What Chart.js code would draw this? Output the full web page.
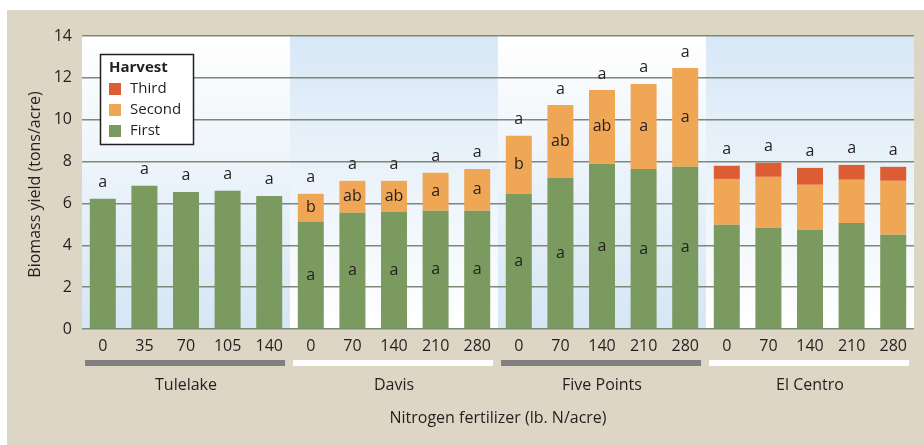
<!DOCTYPE html>
<html>
<head>
<meta charset="utf-8">
<script src="https://cdn.jsdelivr.net/npm/chart.js@4.4.1/dist/chart.umd.min.js"></script>
<style>
    html, body { margin: 0; padding: 0; background: #fff; }
    #wrap { width: 924px; height: 445px; }
</style>
</head>
<body>
<div id="wrap"><canvas id="yieldChart" width="924" height="445"></canvas></div>
<script>
// ─── DATA ──────────────────────────────────────────────
const rates = ['0', '35', '70', '105', '140',
               '0', '70', '140', '210', '280',
               '0', '70', '140', '210', '280',
               '0', '70', '140', '210', '280'];
const sites = ['Tulelake', 'Davis', 'Five Points', 'El Centro'];

const firstHarvest  = [6.22, 6.84, 6.55, 6.60, 6.36,  5.12, 5.55, 5.60, 5.65, 5.65,
                       6.46, 7.22, 7.89, 7.65, 7.75,  4.98, 4.84, 4.74, 5.07, 4.50];
const secondHarvest = [null, null, null, null, null,  1.34, 1.53, 1.48, 1.81, 2.00,
                       2.77, 3.48, 3.53, 4.06, 4.72,  2.19, 2.43, 2.15, 2.06, 2.58];
const thirdHarvest  = [null, null, null, null, null,  null, null, null, null, null,
                       null, null, null, null, null,  0.63, 0.67, 0.81, 0.71, 0.67];

// significance letters: above the stack, inside second cut, inside first cut
const lettersTop    = ['a','a','a','a','a', 'a','a','a','a','a', 'a','a','a','a','a', 'a','a','a','a','a'];
const lettersSecond = ['','','','','', 'b','ab','ab','a','a', 'b','ab','ab','a','a', '','','','',''];
const lettersFirst  = ['','','','','', 'a','a','a','a','a', 'a','a','a','a','a', '','','','',''];

const yTickStep = 2;
const yMax = 14;

// ─── STYLE ─────────────────────────────────────────────
const FONT = '"Open Sans", "Noto Sans", sans-serif';
const INK = '#231f20';
const colors = { first: '#7a9a60', second: '#f0a755', third: '#dc5c33' };

// ─── PLUGINS ───────────────────────────────────────────
const backdrop = {
    id: 'backdrop',
    beforeDraw(chart) {
        const { ctx, chartArea: a } = chart;
        ctx.save();
        ctx.fillStyle = '#ffffff';
        ctx.fillRect(0, 0, chart.width, chart.height);
        ctx.fillStyle = '#ddd6c5';
        ctx.fillRect(7, 10, chart.width - 7, chart.height - 10);

        // alternating gradient panels, one per site
        const panelW = a.width / sites.length;
        sites.forEach((s, i) => {
            const x0 = a.left + i * panelW;
            const g = ctx.createLinearGradient(0, a.top, 0, a.bottom);
            const blueTop = i % 2 === 1;
            g.addColorStop(0, blueTop ? '#d8e8f6' : '#ffffff');
            g.addColorStop(1, blueTop ? '#ffffff' : '#d6e6f5');
            ctx.fillStyle = g;
            ctx.fillRect(x0, a.top, panelW, a.bottom - a.top);
        });
        ctx.restore();
    },
    afterDraw(chart) {
        const { ctx, chartArea: a } = chart;
        const panelW = a.width / sites.length;
        ctx.save();
        ctx.fillStyle = INK;
        ctx.textAlign = 'center';
        ctx.textBaseline = 'middle';
        ctx.font = '16px ' + FONT;

        sites.forEach((s, i) => {
            const x0 = a.left + i * panelW;
            // group underline bar
            ctx.fillStyle = i % 2 === 0 ? '#808080' : '#ffffff';
            ctx.fillRect(x0 + 3, 360, panelW - 8, 6);
            ctx.fillStyle = INK;
            ctx.fillText(s, x0 + panelW / 2, 385);
        });

        ctx.fillText('Nitrogen fertilizer (lb. N/acre)', (a.left + a.right) / 2, 418);

        // y axis title
        ctx.translate(35, (a.top + a.bottom) / 2 + 2);
        ctx.rotate(-Math.PI / 2);
        ctx.fillText('Biomass yield (tons/acre)', 0, 0);
        ctx.restore();

        // legend box
        ctx.save();
        ctx.fillStyle = '#ffffff';
        ctx.fillRect(100, 54, 93, 90);
        ctx.strokeStyle = INK;
        ctx.lineWidth = 1.5;
        ctx.strokeRect(100.5, 54.5, 93, 90);
        ctx.fillStyle = INK;
        ctx.textBaseline = 'middle';
        ctx.font = 'bold 15px ' + FONT;
        ctx.fillText('Harvest', 109, 68);
        ctx.font = '15px ' + FONT;
        const items = [['Third', colors.third, 89], ['Second', colors.second, 110], ['First', colors.first, 131]];
        items.forEach(([label, col, cy]) => {
            ctx.fillStyle = col;
            ctx.fillRect(109, cy - 6, 12, 12);
            ctx.fillStyle = INK;
            ctx.fillText(label, 130, cy);
        });
        ctx.restore();
    }
};

const letters = {
    id: 'letters',
    afterDatasetsDraw(chart) {
        const { ctx } = chart;
        const y = chart.scales.y;
        const bars = chart.getDatasetMeta(0).data;
        ctx.save();
        ctx.fillStyle = INK;
        ctx.textAlign = 'center';
        ctx.textBaseline = 'middle';
        ctx.font = '16px ' + FONT;
        rates.forEach((r, i) => {
            const cx = bars[i].x;
            const first = firstHarvest[i];
            const second = secondHarvest[i] || 0;
            const total = first + second + (thirdHarvest[i] || 0);
            ctx.fillText(lettersTop[i], cx, y.getPixelForValue(total) - 16);
            if (lettersSecond[i]) ctx.fillText(lettersSecond[i], cx, y.getPixelForValue(first + second / 2));
            if (lettersFirst[i]) ctx.fillText(lettersFirst[i], cx, y.getPixelForValue(first / 2));
        });
        ctx.restore();
    }
};

// ─── CHART ─────────────────────────────────────────────
const barStyle = { categoryPercentage: 1, barPercentage: 0.625, borderWidth: 0 };

new Chart(document.getElementById('yieldChart').getContext('2d'), {
    type: 'bar',
    data: {
        labels: rates,
        datasets: [
            { label: 'First',  data: firstHarvest,  backgroundColor: colors.first,  ...barStyle },
            { label: 'Second', data: secondHarvest, backgroundColor: colors.second, ...barStyle },
            { label: 'Third',  data: thirdHarvest,  backgroundColor: colors.third,  ...barStyle },
        ]
    },
    options: {
        responsive: false,
        animation: false,
        layout: { padding: { top: 36, right: 10, left: 0, bottom: 0 } },
        plugins: { legend: { display: false }, tooltip: { enabled: false } },
        scales: {
            x: {
                stacked: true,
                grid: { display: false, drawTicks: false },
                border: { display: false },
                ticks: { color: INK, font: { family: FONT, size: 16 }, padding: 8, autoSkip: false, maxRotation: 0 },
                afterFit(s) { s.height = 116; }
            },
            y: {
                stacked: true,
                min: 0,
                max: yMax,
                grid: { color: '#7d8876', lineWidth: 1.5, drawTicks: false },
                border: { display: false },
                ticks: { stepSize: yTickStep, color: INK, font: { family: FONT, size: 16 }, padding: 10 },
                afterFit(s) { s.width = 82; }
            }
        }
    },
    plugins: [backdrop, letters]
});
</script>
</body>
</html>
